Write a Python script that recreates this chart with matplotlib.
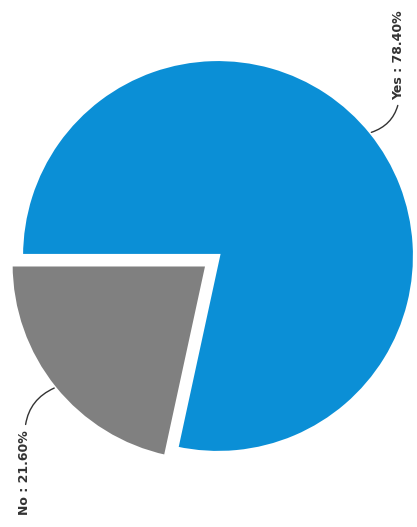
import numpy as np
import matplotlib.pyplot as plt

labels = ['No', 'Yes']
values = [21.6, 78.4]
colors = ['#808080', '#0b8fd6']
explode_frac = [0.068, 0]

W, H = 417, 527
fig = plt.figure(figsize=(W / 100, H / 100), dpi=100)
ax = fig.add_axes([0, 0, 1, 1])

# pie in pixel-like data coords (y up)
cx, cy, r = 218, H - 256, 197
wedges, _ = ax.pie(values, colors=colors, explode=[e * r for e in explode_frac],
                   startangle=180, counterclock=True, center=(cx, cy), radius=r,
                   wedgeprops=dict(edgecolor='white', linewidth=3))

ax.set_xlim(0, W)
ax.set_ylim(0, H)
ax.set_aspect('equal')
ax.axis('off')

# label anchor (end of text nearest the pie), alignment and arrow start
label_cfg = {
    'No': dict(pos=(25, H - 430), va='top', relpos=(0.5, 1)),
    'Yes': dict(pos=(399, H - 100), va='bottom', relpos=(0.5, 0)),
}

for w, lab, v in zip(wedges, labels, values):
    mid = np.deg2rad((w.theta1 + w.theta2) / 2)
    px = w.center[0] + w.r * np.cos(mid)
    py = w.center[1] + w.r * np.sin(mid)
    cfg = label_cfg[lab]
    ax.annotate(f'{lab} : {v:.2f}%', xy=(px, py), xytext=cfg['pos'],
                rotation=90, ha='center', va=cfg['va'], fontsize=9,
                fontweight='bold', color='#333333',
                arrowprops=dict(arrowstyle='-', color='#333333', lw=1,
                                relpos=cfg['relpos'], shrinkA=4, shrinkB=0,
                                patchA=None,
                                connectionstyle='arc3,rad=-0.3'))

plt.savefig('out.png', dpi=100)
